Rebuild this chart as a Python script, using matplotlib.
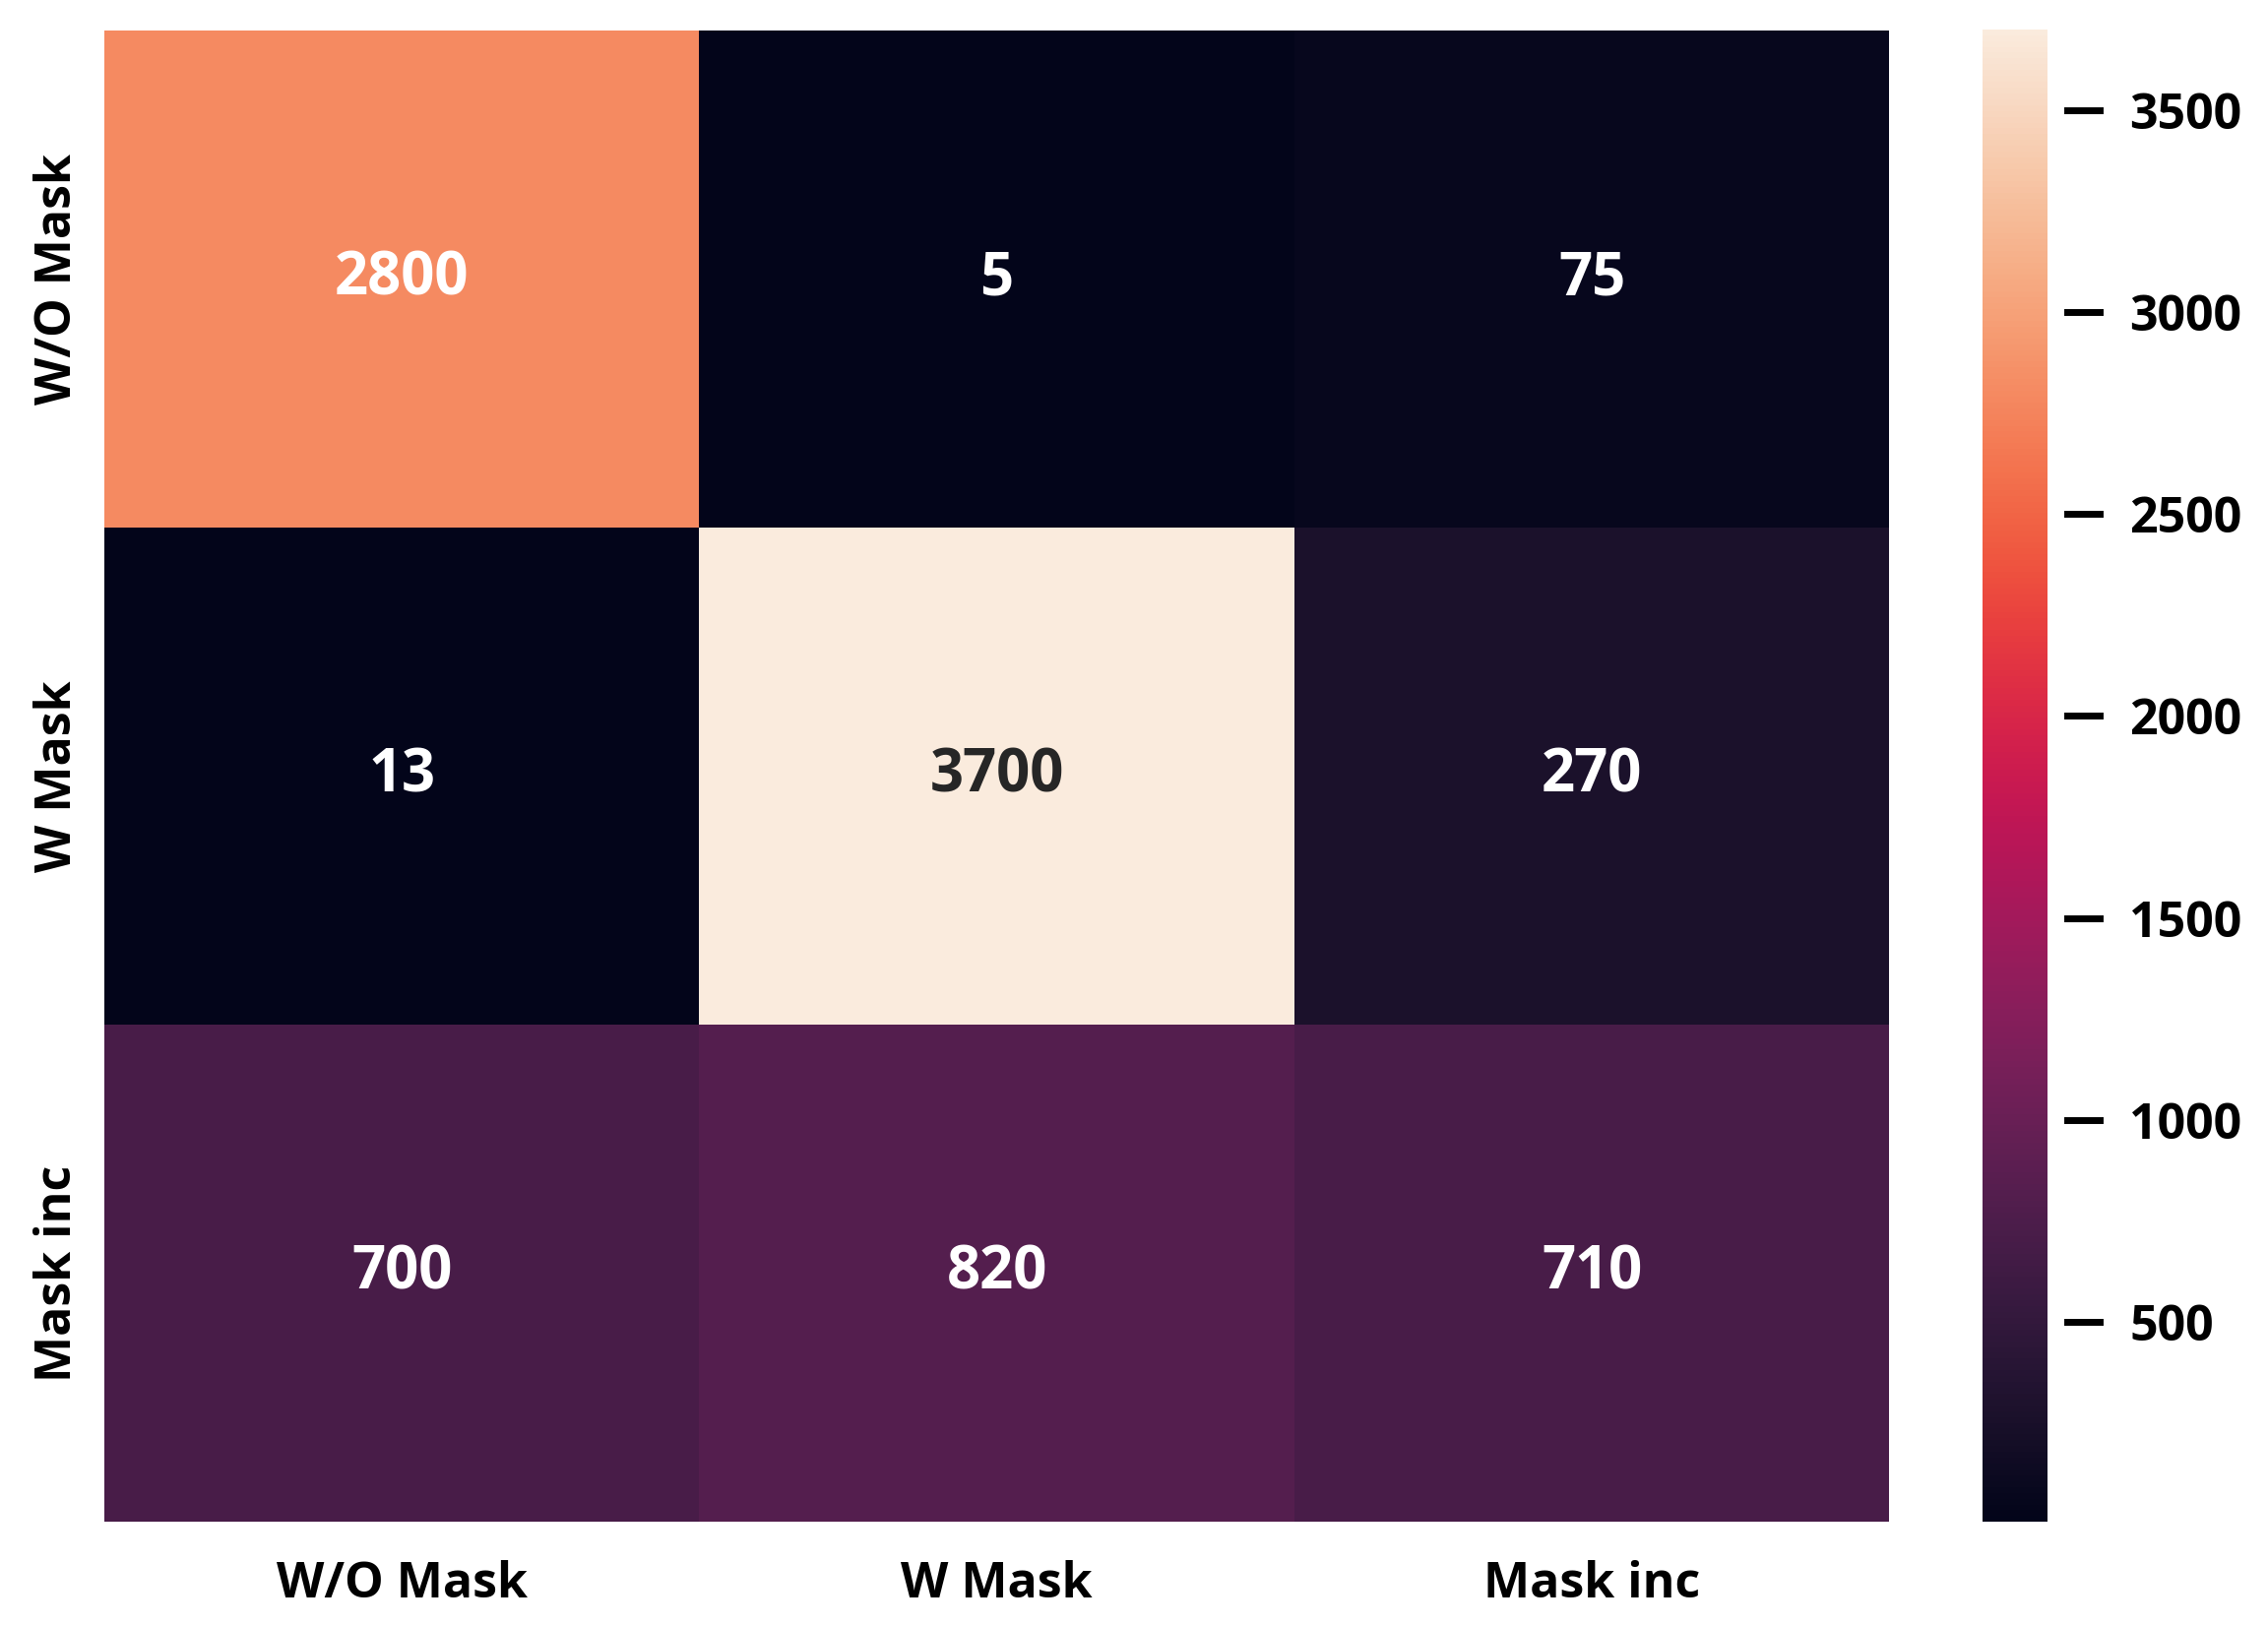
import numpy as np
import matplotlib
matplotlib.use("Agg")
import matplotlib.pyplot as plt
import seaborn as sns

# confusion matrix values
labels = ["W/O Mask", "W Mask", "Mask inc"]
row_wo = [2800, 5, 75]
row_w = [13, 3700, 270]
row_inc = [700, 820, 710]
cbar_ticks = [500, 1000, 1500, 2000, 2500, 3000, 3500]

cm = np.array([row_wo, row_w, row_inc])

plt.rcParams['font.family'] = ['Open Sans', 'DejaVu Sans']
plt.rcParams['font.weight'] = 'bold'

fig = plt.figure(figsize=(23.04, 16.52), dpi=100)
ax = fig.add_axes([0.046, 0.064, 0.787, 0.917])
cax = fig.add_axes([0.874, 0.064, 0.0287, 0.918])

sns.heatmap(cm, annot=True, fmt="d", cmap="rocket", ax=ax, cbar_ax=cax,
            xticklabels=labels, yticklabels=labels,
            annot_kws={"fontsize": 43, "fontweight": "bold"})

ax.tick_params(axis="x", length=0, labelsize=36, pad=28)
ax.tick_params(axis="y", length=0, labelsize=36, pad=16)
for t in ax.get_xticklabels() + ax.get_yticklabels():
    t.set_fontweight("bold")
plt.setp(ax.get_yticklabels(), rotation=90, va="center")

cax.set_yticks(cbar_ticks)
cax.tick_params(length=0, labelsize=36, pad=60)
for t in cax.get_yticklabels():
    t.set_fontweight("bold")
# the tick dashes sit a bit away from the bar
for v in cbar_ticks:
    cax.plot([1.3, 1.8], [v, v], color="black", lw=5,
             transform=cax.get_yaxis_transform(), clip_on=False)

fig.savefig("out.png", dpi=100)
